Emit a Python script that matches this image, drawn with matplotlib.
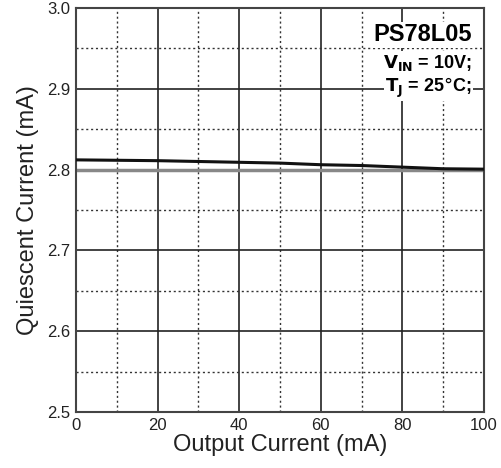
import matplotlib
matplotlib.use('Agg')
from matplotlib import pyplot as plt
from matplotlib.ticker import MultipleLocator

# Data
output_current = [0, 10, 20, 30, 40, 50, 60, 70, 80, 90, 100]
quiescent_current = [2.812, 2.8115, 2.811, 2.810, 2.809, 2.808, 2.806, 2.805, 2.803, 2.801, 2.8005]
x_ticks = [0, 20, 40, 60, 80, 100]
y_ticks = [2.5, 2.6, 2.7, 2.8, 2.9, 3.0]

plt.rcParams['font.family'] = ['Liberation Sans', 'DejaVu Sans']

fig = plt.figure(figsize=(5.01, 4.68), dpi=100)
ax = fig.add_axes([0.1517, 0.1197, 0.8143, 0.8633])

ax.set_xlim(0, 100)
ax.set_ylim(2.5, 3.0)
ax.set_xticks(x_ticks)
ax.set_yticks(y_ticks)
ax.set_yticklabels(['{:.1f}'.format(v) for v in y_ticks])
ax.xaxis.set_minor_locator(MultipleLocator(10))
ax.yaxis.set_minor_locator(MultipleLocator(0.05))

# grid: solid majors, dotted minors
ax.grid(which='major', color='#222222', linewidth=1.2, linestyle='-')
ax.grid(which='minor', color='#333333', linewidth=1.0, linestyle=(0, (1.5, 2)))
ax.set_axisbelow(True)
ax.axhline(2.8, color='#888888', linewidth=2.5, zorder=1)

ax.plot(output_current, quiescent_current, '-', color='#111111', linewidth=2.2, zorder=3)

ax.tick_params(which='both', length=0, labelsize=12, pad=4, colors='#222222')
for s in ax.spines.values():
    s.set_linewidth(1.5)
    s.set_color('#444444')

ax.set_xlabel('Output Current (mA)', fontsize=17, labelpad=1, color='#222222')
ax.set_ylabel('Quiescent Current (mA)', fontsize=17, labelpad=6, color='#222222')

ax.text(97, 2.967, 'PS78L05', fontsize=17, fontweight='bold', ha='right', va='center',
        bbox=dict(facecolor='white', edgecolor='none', pad=1), zorder=5)
ax.text(97, 2.932, '$\\mathbf{V_{IN}}$ = 10V;', fontsize=13, fontweight='bold', ha='right', va='center',
        bbox=dict(facecolor='white', edgecolor='none', pad=1), zorder=5)
ax.text(97, 2.901, '$\\mathbf{T_{J}}$ = 25$\\degree$C;', fontsize=13, fontweight='bold', ha='right', va='center',
        bbox=dict(facecolor='white', edgecolor='none', pad=1), zorder=5)

fig.savefig('out.png', dpi=100)
